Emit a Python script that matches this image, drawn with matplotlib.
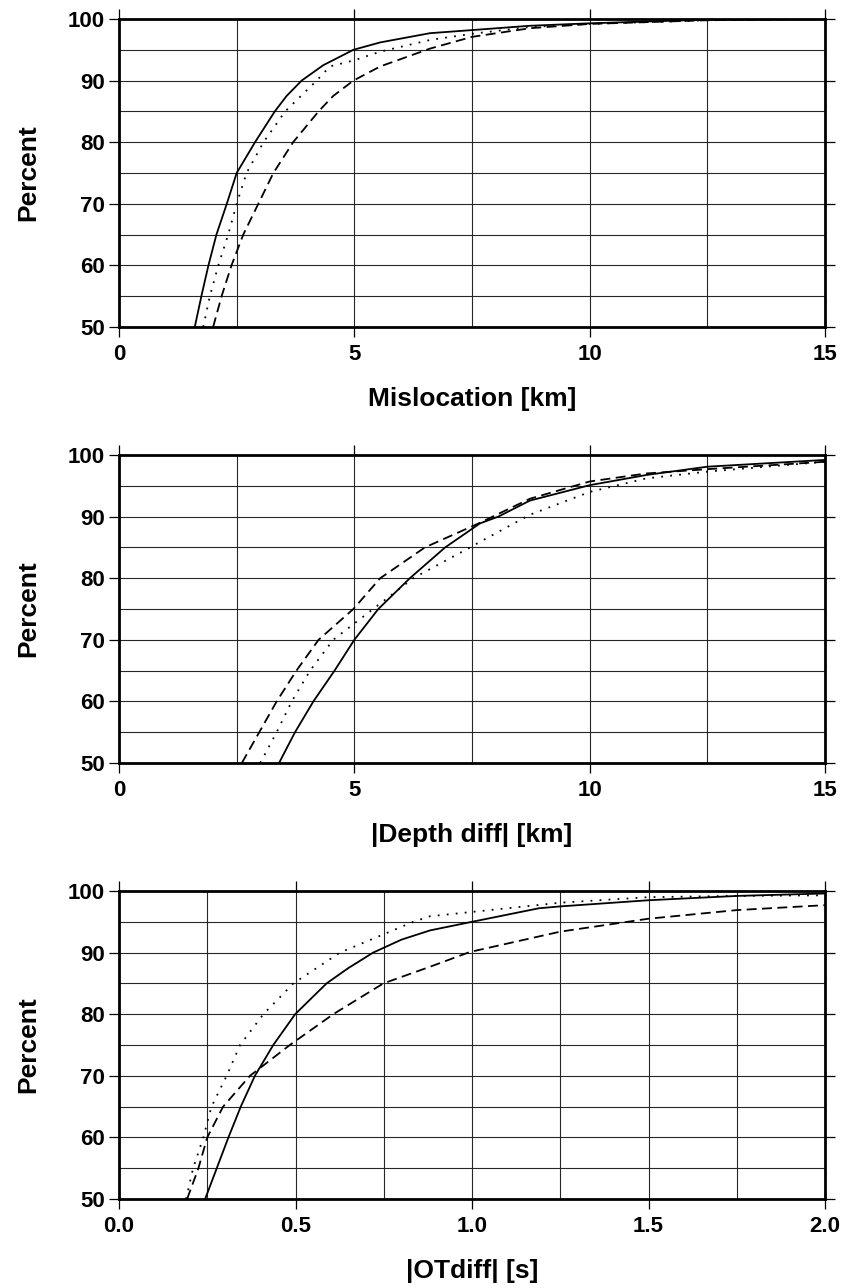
import numpy as np
import matplotlib
matplotlib.use('Agg')
import matplotlib.pyplot as plt
from matplotlib.ticker import MultipleLocator, FormatStrFormatter

plt.rcParams['font.family'] = ['Liberation Sans', 'DejaVu Sans']
plt.rcParams['font.weight'] = 'bold'

# panel 1: mislocation [km]
mis_solid_x = [1.61, 1.75, 1.90, 2.07, 2.29, 2.50, 2.89, 3.31, 3.56, 3.88, 4.34, 4.98, 5.55, 6.61, 7.5, 8.73, 10.0, 12.5, 15.0]
mis_solid_y = [50, 55, 60, 65, 70, 75, 80, 85, 87.5, 90, 92.5, 95, 96.2, 97.7, 98.2, 98.9, 99.3, 99.9, 100]
mis_dot_x = [1.79, 1.93, 2.11, 2.32, 2.50, 2.71, 3.07, 3.53, 4.20, 4.48, 5.0, 5.55, 6.61, 7.5, 8.73, 10.0, 12.5, 15.0]
mis_dot_y = [50, 55, 60, 65, 70, 75, 80, 85, 90, 92.3, 93.3, 94.7, 96.6, 97.6, 98.7, 99.2, 99.8, 100]
mis_dash_x = [2.0, 2.18, 2.39, 2.64, 2.96, 3.28, 3.70, 4.24, 4.55, 4.98, 5.55, 6.61, 7.5, 8.73, 10.0, 12.5, 15.0]
mis_dash_y = [50, 55, 60, 65, 70, 75, 80, 85, 87.5, 90, 92.3, 95.2, 97.1, 98.5, 99.2, 99.8, 100]

# panel 2: |depth diff| [km]
dep_solid_x = [3.40, 3.74, 4.13, 4.58, 5.0, 5.51, 6.18, 6.93, 7.67, 8.06, 8.73, 10.0, 11.2, 12.5, 15.0]
dep_solid_y = [50, 55, 60, 65, 70, 75, 80, 85, 88.9, 90, 92.6, 95.1, 96.75, 98.1, 99.2]
dep_dot_x = [3.0, 3.35, 3.67, 4.06, 4.55, 5.40, 6.25, 7.46, 7.67, 8.73, 10.0, 11.2, 12.5, 15.0]
dep_dot_y = [50, 55, 60, 65, 70, 75, 80, 85, 85.9, 90.3, 94.0, 96.2, 97.3, 98.9]
dep_dash_x = [2.61, 2.98, 3.35, 3.77, 4.24, 4.98, 5.55, 6.50, 7.67, 8.05, 8.73, 10.0, 11.2, 12.5, 15.0]
dep_dash_y = [50, 55, 60, 65, 70, 75, 80, 85, 89.0, 90.4, 92.9, 95.7, 97.0, 97.7, 98.9]

# panel 3: |OT diff| [s]
ot_solid_x = [0.244, 0.277, 0.31, 0.345, 0.385, 0.437, 0.499, 0.588, 0.65, 0.72, 0.80, 0.881, 1.0, 1.19, 1.25, 1.5, 1.75, 2.0]
ot_solid_y = [50, 55, 60, 65, 70, 75, 80, 85, 87.5, 90, 92.1, 93.6, 95, 97.2, 97.5, 98.5, 99.2, 99.6]
ot_dot_x = [0.19, 0.21, 0.239, 0.262, 0.305, 0.343, 0.409, 0.494, 0.626, 0.834, 0.881, 1.0, 1.25, 1.5, 1.75, 2.0]
ot_dot_y = [50, 55, 60, 65, 70, 75, 80, 85, 90, 95, 95.9, 96.6, 98.1, 99.0, 99.2, 99.3]
ot_dash_x = [0.193, 0.225, 0.25, 0.295, 0.371, 0.484, 0.607, 0.749, 0.881, 0.994, 1.25, 1.5, 1.75, 2.0]
ot_dash_y = [50, 55, 60, 65, 70, 75, 80, 85, 87.7, 90.1, 93.4, 95.5, 96.9, 97.7]

panels = [
    (mis_solid_x, mis_solid_y, mis_dot_x, mis_dot_y, mis_dash_x, mis_dash_y,
     15, 5, 2.5, 'Mislocation [km]', '%d'),
    (dep_solid_x, dep_solid_y, dep_dot_x, dep_dot_y, dep_dash_x, dep_dash_y,
     15, 5, 2.5, '|Depth diff| [km]', '%d'),
    (ot_solid_x, ot_solid_y, ot_dot_x, ot_dot_y, ot_dash_x, ot_dash_y,
     2.0, 0.5, 0.25, '|OTdiff| [s]', '%.1f'),
]

W, H = 841, 1288
fig = plt.figure(figsize=(W / 100, H / 100), dpi=100)

tops = [19, 455, 891]
left, right, ph = 119, 825, 308

for (sx, sy, dx, dy, hx, hy, xmax, xmaj, xmin, xlabel, fmt), top in zip(panels, tops):
    ax = fig.add_axes([left / W, 1 - (top + ph) / H, (right - left) / W, ph / H])
    ax.plot(sx, sy, color='black', lw=1.3, ls='-', zorder=3)
    ax.plot(dx, dy, color='black', lw=1.3, ls=(0, (1, 4)), zorder=3)
    ax.plot(hx, hy, color='black', lw=1.3, ls=(0, (5.5, 3)), zorder=3)
    ax.set_xlim(0, xmax)
    ax.set_ylim(50, 100)
    ax.xaxis.set_major_locator(MultipleLocator(xmaj))
    ax.xaxis.set_minor_locator(MultipleLocator(xmin))
    ax.yaxis.set_major_locator(MultipleLocator(10))
    ax.yaxis.set_minor_locator(MultipleLocator(5))
    ax.xaxis.set_major_formatter(FormatStrFormatter(fmt))
    ax.grid(True, which='both', color='0.15', lw=0.8, zorder=1)
    ax.tick_params(which='major', direction='out', length=7, width=0.9,
                   top=True, right=True, labelsize=16, pad=3)
    ax.tick_params(axis='x', which='major', pad=5)
    ax.tick_params(which='minor', length=0)
    for lbl in ax.get_xticklabels() + ax.get_yticklabels():
        lbl.set_fontweight('bold')
    for sp in ax.spines.values():
        sp.set_linewidth(2.0)
    ax.set_xlabel(xlabel, fontsize=19, fontweight='bold')
    ax.set_ylabel('Percent', fontsize=19, fontweight='bold')
    ax.xaxis.set_label_coords(0.5, -0.195)
    ax.yaxis.set_label_coords(-0.112, 0.5)

fig.savefig('out.png', dpi=100)
